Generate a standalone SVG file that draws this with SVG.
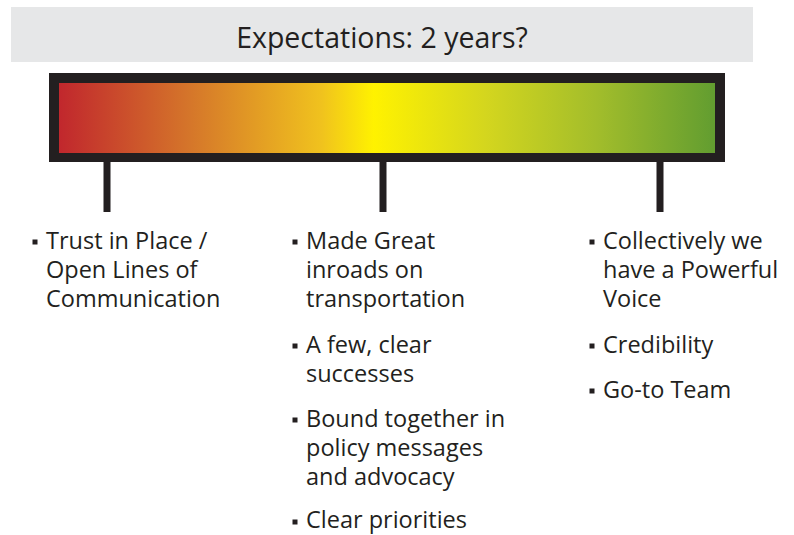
<svg xmlns="http://www.w3.org/2000/svg" width="794" height="535" viewBox="0 0 794 535">
<style>
.t{font-family:"Open Sans","Liberation Sans",sans-serif;font-size:23.5px;fill:#231f20}
.ttl{font-family:"Open Sans","Liberation Sans",sans-serif;font-size:28.5px;fill:#231f20}
.b{fill:#231f20}
</style>
<defs>
<linearGradient id="g" x1="0" y1="0" x2="1" y2="0">
<stop offset="0" stop-color="#c1272d"/>
<stop offset="0.2" stop-color="#d5762a"/>
<stop offset="0.4" stop-color="#f0c21e"/>
<stop offset="0.48" stop-color="#fff200"/>
<stop offset="0.65" stop-color="#d4d61e"/>
<stop offset="0.82" stop-color="#a2bd2b"/>
<stop offset="1" stop-color="#629d30"/>
</linearGradient>
</defs>
<g id="title">
<rect x="11" y="7" width="742" height="55" fill="#e6e7e8"/>
<text class="ttl" x="382" y="48" text-anchor="middle">Expectations: 2 years?</text>
</g>
<g id="scale">
<rect x="49" y="73" width="676" height="89" fill="#231f20"/>
<rect x="59" y="83" width="656" height="70" fill="url(#g)"/>
</g>
<g id="connectors">
<rect class="b" x="103.5" y="160" width="7" height="52"/>
<rect class="b" x="379.5" y="160" width="7" height="52"/>
<rect class="b" x="656.5" y="160" width="7" height="52"/>
</g>
<g id="col1">
<rect class="b" x="32.5" y="239.5" width="5" height="5"/>
<text class="t"><tspan x="46" y="249">Trust in Place /</tspan><tspan x="46" y="278">Open Lines of</tspan><tspan x="46" y="307">Communication</tspan></text>
</g>
<g id="col2">
<rect class="b" x="292.5" y="239.5" width="5" height="5"/>
<text class="t"><tspan x="306" y="249">Made Great</tspan><tspan x="306" y="278">inroads on</tspan><tspan x="306" y="307">transportation</tspan></text>
<rect class="b" x="292.5" y="343.5" width="5" height="5"/>
<text class="t"><tspan x="306" y="353">A few, clear</tspan><tspan x="306" y="382">successes</tspan></text>
<rect class="b" x="292.5" y="417.5" width="5" height="5"/>
<text class="t"><tspan x="306" y="427">Bound together in</tspan><tspan x="306" y="456">policy messages</tspan><tspan x="306" y="485">and advocacy</tspan></text>
<rect class="b" x="292.5" y="519.5" width="5" height="5"/>
<text class="t"><tspan x="306" y="528">Clear priorities</tspan></text>
</g>
<g id="col3">
<rect class="b" x="589.5" y="239.5" width="5" height="5"/>
<text class="t"><tspan x="603" y="249">Collectively we</tspan><tspan x="603" y="278">have a Powerful</tspan><tspan x="603" y="307">Voice</tspan></text>
<rect class="b" x="589.5" y="343.5" width="5" height="5"/>
<text class="t"><tspan x="603" y="353">Credibility</tspan></text>
<rect class="b" x="589.5" y="388.5" width="5" height="5"/>
<text class="t"><tspan x="603" y="398">Go-to Team</tspan></text>
</g>
</svg>
